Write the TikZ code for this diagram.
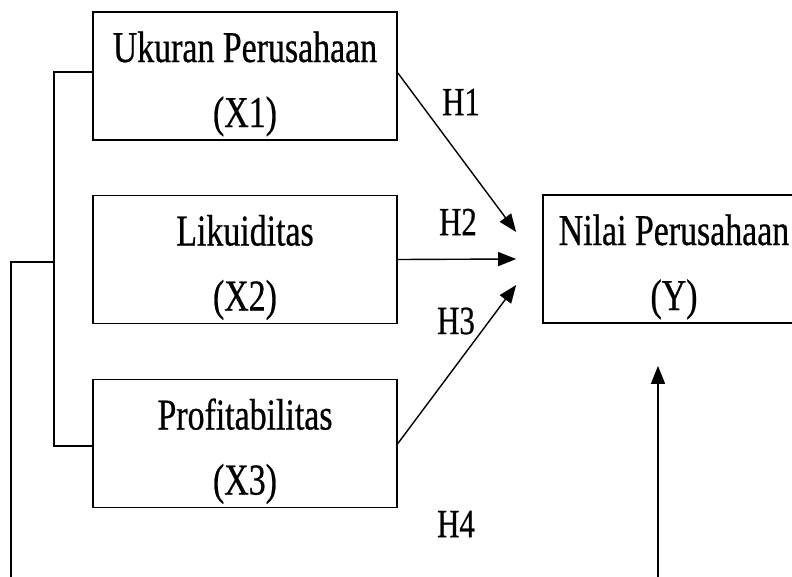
\documentclass[tikz,border=0pt]{standalone}
\usepackage{fontspec}
\setmainfont[FakeStretch=0.77,FakeBold=0.6]{Liberation Serif}
\usetikzlibrary{arrows.meta}
\begin{document}
\begin{tikzpicture}[x=1pt,y=-1pt,
  box/.style={draw, line width=1.7pt, inner sep=0pt, minimum width=304pt,
    text height=115pt, text depth=13pt, align=center,
    font=\fontsize{44pt}{65pt}\selectfont},
  conn/.style={line width=1.4pt},
  arr/.style={conn, -{Triangle[length=18pt,width=14pt]}},
  lbl/.style={inner sep=0pt, font=\fontsize{40pt}{48pt}\selectfont}]
\useasboundingbox (0,0) rectangle (792,576);
\clip (0,0) rectangle (792,576);
\node[box] (x1) at (245,76) {Ukuran Perusahaan\\(X1)};
\node[box] (x2) at (245,259.5) {Likuiditas\\(X2)};
\node[box] (x3) at (245,443.5) {Profitabilitas\\(X3)};
\node[box, minimum width=262pt] (y) at (674,259) {Nilai Perusahaan\\(Y)};
% bracket
\coordinate (b1) at (54,72);
\coordinate (b2) at (54,262);
\coordinate (b3) at (54,446);
\draw[line width=1.6pt] ([yshift=4pt]x1.west) -- (b1) -- (b3) -- ([yshift=-2.5pt]x3.west);
\draw[line width=1.6pt] (b2) -- (11,262) -- (11,600) -- (658,600) -- (658,580);
\draw[arr] (658,600) -- ([xshift=-16pt,yshift=-42pt]y.south);
% arrows
\draw[arr] ([yshift=3pt]x1.east) -- ([xshift=-26pt,yshift=27pt]y.west);
\draw[arr] (x2.east) -- ([xshift=-26pt]y.west);
\draw[arr] (x3.east) -- ([xshift=-26pt,yshift=-26pt]y.west);
% labels
\node[lbl] (h1) at (461,102) {H1};
\node[lbl] (h2) at (458,222) {H2};
\node[lbl] (h3) at (456,321) {H3};
\node[lbl] (h4) at (456,524) {H4};
\end{tikzpicture}
\end{document}
